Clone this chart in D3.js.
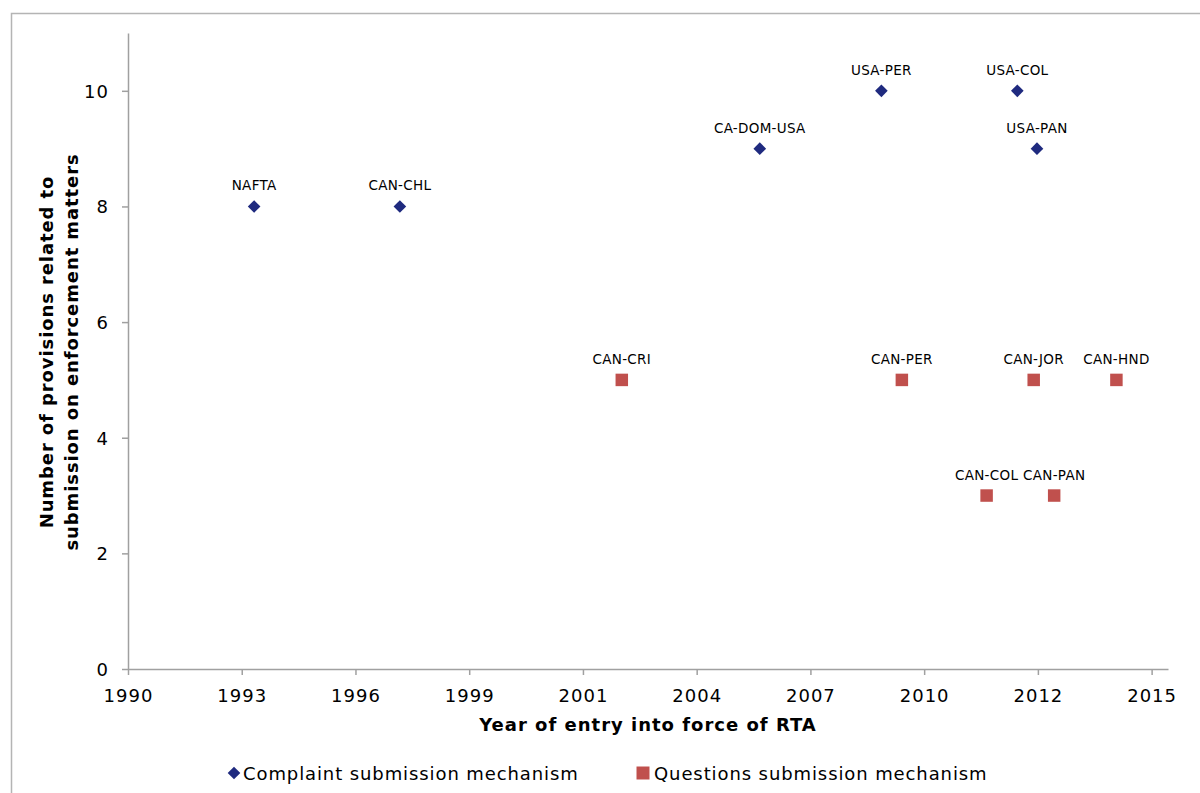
<!DOCTYPE html>
<html>
<head>
<meta charset="utf-8">
<script src="https://cdn.jsdelivr.net/npm/d3@7"></script>
<style>
  html, body { margin: 0; padding: 0; background: #fff; }
  svg { display: block; font-family: "DejaVu Sans", Verdana, sans-serif; }
</style>
</head>
<body>
<svg id="chart" width="1200" height="793"></svg>
<script>
// ---- Data ----
const complaintNames  = ["NAFTA", "CAN-CHL", "CA-DOM-USA", "USA-PER", "USA-COL", "USA-PAN"];
const complaintYears  = [1993.80, 1997.36, 2006.15, 2009.12, 2012.44, 2012.92];
const complaintValues = [8, 8, 9, 10, 10, 9];

const questionNames  = ["CAN-CRI", "CAN-PER", "CAN-COL", "CAN-JOR", "CAN-PAN", "CAN-HND"];
const questionYears  = [2002.78, 2009.62, 2011.69, 2012.84, 2013.34, 2014.86];
const questionValues = [5, 5, 3, 5, 3, 5];

const xTickLabels = ["1990", "1993", "1996", "1999", "2001", "2004", "2007", "2010", "2012", "2015"];
const xTickStart = 1990.72;          // axis origin (decimal year)
const xTickStep = 25 / 9;            // major unit in years
const xDomainEnd = 2016.12;
const yTicks = [0, 2, 4, 6, 8, 10];

const seriesNames = ["Complaint submission mechanism", "Questions submission mechanism"];
const colors = ["#1F2A7F", "#C0504D"];

// ---- Layout ----
const svg = d3.select("#chart");
const mLeft = 128, mRight = 1168, mTop = 33, mBottom = 669;

const x = d3.scaleLinear().domain([xTickStart, xDomainEnd]).range([mLeft, mRight]);
const y = d3.scaleLinear().domain([0, 11]).range([mBottom, mTop]);

// outer frame
svg.append("path")
  .attr("d", `M11.5,793 V13.5 H1200`)
  .attr("fill", "none").attr("stroke", "#b4b4b4").attr("stroke-width", 1.5);

const axisColor = "#a0a0a0";

// x axis
const xTickVals = xTickLabels.map((d, i) => xTickStart + i * xTickStep);
const xAxis = d3.axisBottom(x).tickValues(xTickVals)
  .tickFormat((d, i) => xTickLabels[i]).tickSize(6).tickSizeOuter(0);
const gx = svg.append("g").attr("transform", `translate(0,${mBottom})`).call(xAxis);
gx.select(".domain").attr("stroke", axisColor).attr("stroke-width", 1.5);
gx.selectAll(".tick line").attr("stroke", axisColor).attr("stroke-width", 1.5);
gx.selectAll(".tick text").attr("font-size", 18).attr("letter-spacing", 1).attr("fill", "#000")
  .attr("font-family", "DejaVu Sans, Verdana, sans-serif").attr("dy", null).attr("y", 33);

// y axis
const yAxis = d3.axisLeft(y).tickValues(yTicks).tickFormat(d3.format("d")).tickSize(6).tickSizeOuter(0);
const gy = svg.append("g").attr("transform", `translate(${mLeft},0)`).call(yAxis);
gy.select(".domain").attr("stroke", axisColor).attr("stroke-width", 1.5);
gy.selectAll(".tick line").attr("stroke", axisColor).attr("stroke-width", 1.5);
gy.selectAll(".tick text").attr("font-size", 18).attr("letter-spacing", 1).attr("fill", "#000")
  .attr("font-family", "DejaVu Sans, Verdana, sans-serif").attr("x", -19).attr("dy", "0.36em");

// axis titles
svg.append("text")
  .attr("x", 648).attr("y", 731)
  .attr("text-anchor", "middle").attr("font-weight", "bold").attr("font-size", 18)
  .attr("letter-spacing", 1)
  .text("Year of entry into force of RTA");

const yTitle = svg.append("text")
  .attr("transform", `translate(0,352) rotate(-90)`)
  .attr("text-anchor", "middle").attr("font-weight", "bold").attr("font-size", 18)
  .attr("letter-spacing", 0.9);
yTitle.append("tspan").attr("x", 0).attr("y", 53).text("Number of provisions related to");
yTitle.append("tspan").attr("x", 0).attr("y", 78).text("submission on enforcement matters");

// points
const complaint = complaintNames.map((n, i) => ({ name: n, x: complaintYears[i], v: complaintValues[i] }));
const question  = questionNames.map((n, i) => ({ name: n, x: questionYears[i], v: questionValues[i] }));

svg.append("g").selectAll("path").data(complaint).join("path")
  .attr("d", d3.symbol().type(d3.symbolSquare).size(80)())
  .attr("transform", d => `translate(${x(d.x)},${y(d.v)}) rotate(45)`)
  .attr("fill", colors[0]);

svg.append("g").selectAll("path").data(question).join("path")
  .attr("d", d3.symbol().type(d3.symbolSquare).size(156)())
  .attr("transform", d => `translate(${x(d.x)},${y(d.v)})`)
  .attr("fill", colors[1]);

// data labels
svg.append("g").selectAll("text").data(complaint.concat(question)).join("text")
  .attr("x", d => x(d.x)).attr("y", d => y(d.v) - 16)
  .attr("text-anchor", "middle").attr("font-size", 13.5).attr("letter-spacing", 0.3).attr("fill", "#000")
  .text(d => d.name);

// legend
const lg = svg.append("g");
lg.append("path").attr("d", d3.symbol().type(d3.symbolSquare).size(80)())
  .attr("transform", "translate(234,773) rotate(45)").attr("fill", colors[0]);
lg.append("text").attr("x", 243).attr("y", 780).attr("font-size", 18).attr("letter-spacing", 0.9)
  .text(seriesNames[0]);
lg.append("path").attr("d", d3.symbol().type(d3.symbolSquare).size(169)())
  .attr("transform", "translate(643,773)").attr("fill", colors[1]);
lg.append("text").attr("x", 654).attr("y", 780).attr("font-size", 18).attr("letter-spacing", 0.9)
  .text(seriesNames[1]);
</script>
</body>
</html>
